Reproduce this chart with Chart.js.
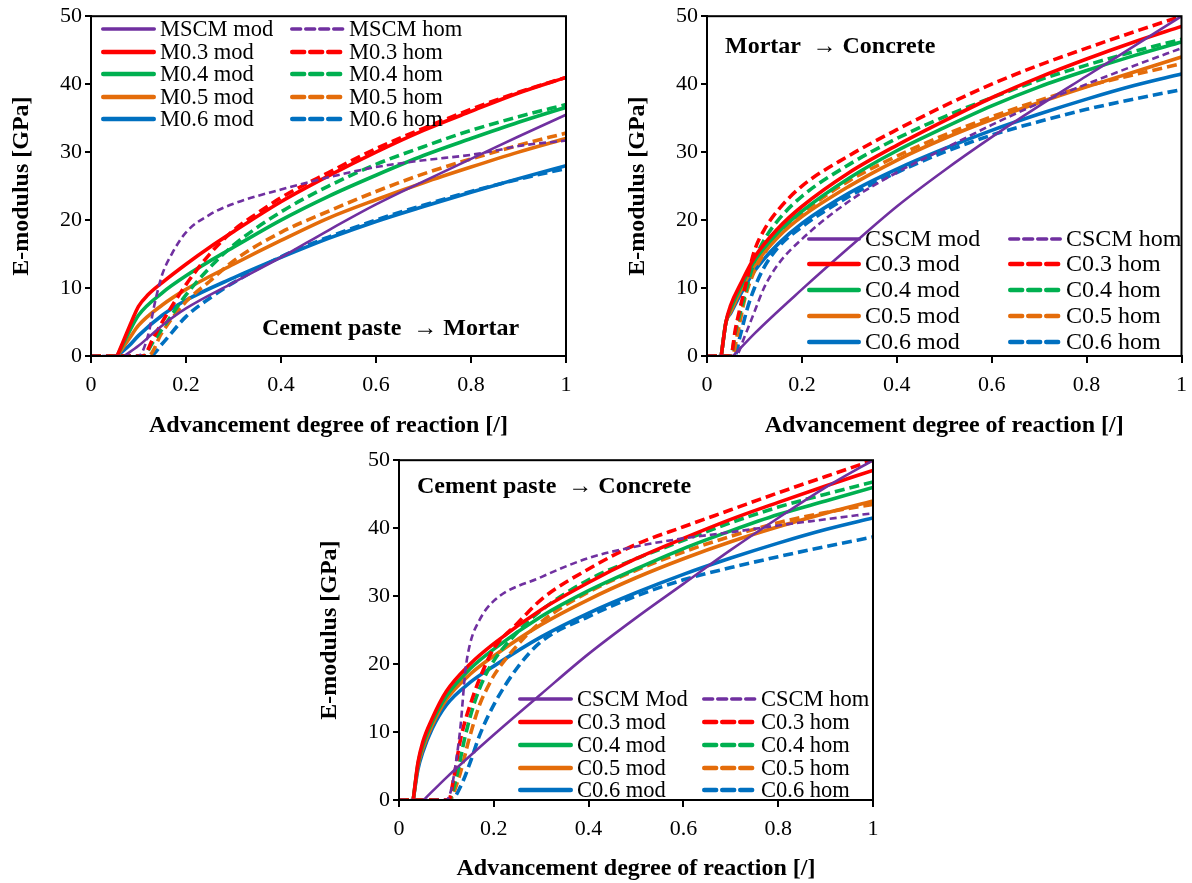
<!DOCTYPE html>
<html><head><meta charset="utf-8">
<script src="https://cdn.jsdelivr.net/npm/chart.js@4.4.1/dist/chart.umd.min.js"></script>
<style>
html,body{margin:0;padding:0;background:#fff;width:1192px;height:883px;overflow:hidden;font-family:"Liberation Serif","Times New Roman",serif;position:relative;}
.box{position:absolute;}
.note{position:absolute;font-weight:bold;font-size:24px;white-space:nowrap;color:#000;line-height:24px;}
.leg{position:absolute;white-space:nowrap;color:#000;display:flex;align-items:center;}
.leg svg{display:block;margin-right:4px;}
</style></head><body>
<div class="box" style="left:3px;top:0;width:597px;height:440px"><canvas id="c1"></canvas></div>
<div class="box" style="left:619px;top:0;width:577px;height:440px"><canvas id="c2"></canvas></div>
<div class="box" style="left:311px;top:444px;width:589px;height:439px"><canvas id="c3"></canvas></div>
<div class="note" style="left:262px;top:315px">Cement paste &nbsp;→ Mortar</div>
<div class="note" style="left:725px;top:33px">Mortar &nbsp;→ Concrete</div>
<div class="note" style="left:417px;top:473px">Cement paste &nbsp;→ Concrete</div>
<script>
// ---------- shared ----------
const xTickValues = [0, 0.2, 0.4, 0.6, 0.8, 1];
const yTickValues = [0, 10, 20, 30, 40, 50];
const xTitle = 'Advancement degree of reaction [/]';
const yTitle = 'E-modulus [GPa]';
const seriesColors = ['#7030A0', '#FF0000', '#00B050', '#E46C0A', '#0070C0'];

// ---------- Chart 1: Cement paste -> Mortar ----------
const labels1 = ['MSCM mod', 'MSCM hom', 'M0.3 mod', 'M0.3 hom', 'M0.4 mod', 'M0.4 hom', 'M0.5 mod', 'M0.5 hom', 'M0.6 mod', 'M0.6 hom'];
const m_SCM_mod = [[0.07,0],[0.1,1.5],[0.15,4.5],[0.2,7],[0.3,10.8],[0.4,14.5],[0.5,18.5],[0.6,22.3],[0.7,25.7],[0.8,29],[0.9,32.3],[1,35.5]];
const m_SCM_hom = [[0,0],[0.1,0],[0.12,3],[0.135,8],[0.15,12],[0.17,15],[0.2,18.2],[0.25,20.8],[0.3,22.4],[0.4,24.5],[0.5,26.3],[0.6,27.8],[0.7,28.8],[0.8,29.6],[0.85,30.2],[0.9,30.9],[1,31.7]];
const m_03_mod = [[0.055,0],[0.07,2.5],[0.085,5],[0.1,7.3],[0.12,9],[0.15,10.8],[0.2,13.5],[0.25,16],[0.3,18.3],[0.4,22.7],[0.5,26.5],[0.6,30],[0.7,33.2],[0.8,36],[0.9,38.7],[1,41]];
const m_03_hom = [[0,0],[0.11,0],[0.13,2.5],[0.15,5],[0.2,10.5],[0.25,15],[0.3,18.5],[0.35,21],[0.4,23.3],[0.5,27],[0.6,30.5],[0.7,33.5],[0.8,36.3],[0.9,38.8],[1,41]];
const m_04_mod = [[0.055,0],[0.08,3.5],[0.1,6],[0.15,9.3],[0.2,11.8],[0.3,16],[0.4,20],[0.5,23.5],[0.6,26.6],[0.7,29.5],[0.8,32],[0.9,34.4],[1,36.6]];
const m_04_hom = [[0,0],[0.11,0],[0.13,2],[0.15,4],[0.2,9],[0.25,13],[0.3,16.3],[0.4,21.2],[0.5,25],[0.6,28.2],[0.7,30.8],[0.8,33.2],[0.9,35.2],[1,37]];
const m_05_mod = [[0.055,0],[0.08,2.5],[0.1,4.5],[0.15,7.5],[0.2,9.8],[0.3,13.5],[0.4,17],[0.5,20.3],[0.6,23],[0.7,25.5],[0.8,27.8],[0.9,30],[1,32]];
const m_05_hom = [[0,0],[0.12,0],[0.15,3.5],[0.2,8],[0.25,11],[0.3,14],[0.4,18.2],[0.5,21.3],[0.6,24.2],[0.7,26.8],[0.8,29],[0.9,31],[1,32.8]];
const m_06_mod = [[0.055,0],[0.08,1.5],[0.1,3],[0.15,6],[0.2,8.2],[0.3,11.5],[0.4,14.5],[0.5,17.3],[0.6,19.8],[0.7,22],[0.8,24.1],[0.9,26.1],[1,28]];
const m_06_hom = [[0,0],[0.125,0],[0.15,1.8],[0.2,5.8],[0.25,8.5],[0.3,10.8],[0.4,14.6],[0.5,17.5],[0.6,20],[0.7,22.2],[0.8,24.2],[0.9,26],[1,27.6]];
const series1 = [m_SCM_mod, m_SCM_hom, m_03_mod, m_03_hom, m_04_mod, m_04_hom, m_05_mod, m_05_hom, m_06_mod, m_06_hom];

// ---------- Chart 2: Mortar -> Concrete ----------
const labels2 = ['CSCM mod', 'CSCM hom', 'C0.3 mod', 'C0.3 hom', 'C0.4 mod', 'C0.4 hom', 'C0.5 mod', 'C0.5 hom', 'C0.6 mod', 'C0.6 hom'];
const mc_SCM_mod = [[0.055,0],[0.1,3.3],[0.2,9.8],[0.3,16],[0.4,22],[0.5,27.3],[0.6,32.2],[0.7,36.8],[0.8,41.2],[0.9,45.6],[1,50]];
const mc_SCM_hom = [[0,0],[0.06,0],[0.08,3],[0.1,6.5],[0.12,10],[0.15,13.5],[0.2,17.2],[0.3,22.8],[0.4,27],[0.5,30.5],[0.6,34],[0.7,37.2],[0.8,40],[0.9,42.7],[1,45.3]];
const mc_03_mod = [[0.03,0],[0.04,5],[0.05,7.5],[0.07,10.5],[0.1,14.5],[0.15,18.8],[0.2,22],[0.3,27],[0.4,31],[0.5,34.6],[0.6,38],[0.7,41],[0.8,43.7],[0.9,46.2],[1,48.5]];
const mc_03_hom = [[0,0],[0.05,0],[0.06,4],[0.08,10],[0.1,15.5],[0.12,18.5],[0.15,21.5],[0.2,25],[0.3,29.5],[0.4,33.3],[0.5,36.8],[0.6,40],[0.7,42.8],[0.8,45.3],[0.9,47.7],[1,50]];
const mc_04_mod = [[0.03,0],[0.04,5],[0.05,7],[0.07,10],[0.1,14],[0.15,18.2],[0.2,21.3],[0.3,26.2],[0.4,30.2],[0.5,33.6],[0.6,36.8],[0.7,39.6],[0.8,42],[0.9,44.2],[1,46.2]];
const mc_04_hom = [[0,0],[0.05,0],[0.06,3.5],[0.08,9],[0.1,14],[0.12,17],[0.15,20],[0.2,23.5],[0.3,28.2],[0.4,32],[0.5,35.2],[0.6,38],[0.7,40.6],[0.8,42.8],[0.9,44.8],[1,46.6]];
const mc_05_mod = [[0.03,0],[0.04,5],[0.05,6.5],[0.07,9.5],[0.1,13.3],[0.15,17.5],[0.2,20.5],[0.3,25],[0.4,28.8],[0.5,32],[0.6,34.8],[0.7,37.3],[0.8,39.6],[0.9,41.8],[1,44]];
const mc_05_hom = [[0,0],[0.053,0],[0.065,3.5],[0.08,8.5],[0.1,12.5],[0.12,15],[0.15,17.8],[0.2,21],[0.3,25.8],[0.4,29.4],[0.5,32.5],[0.6,35.2],[0.7,37.6],[0.8,39.7],[0.9,41.4],[1,43]];
const mc_06_mod = [[0.03,0],[0.04,5],[0.05,6.3],[0.07,9],[0.1,12.5],[0.15,16.5],[0.2,19.5],[0.3,24],[0.4,27.5],[0.5,30.5],[0.6,33.2],[0.7,35.6],[0.8,37.8],[0.9,39.8],[1,41.5]];
const mc_06_hom = [[0,0],[0.058,0],[0.07,3],[0.085,7],[0.1,10],[0.12,13],[0.15,16],[0.2,19],[0.3,23.5],[0.4,27],[0.5,30],[0.6,32.5],[0.7,34.5],[0.8,36.3],[0.9,37.8],[1,39.2]];
const series2 = [mc_SCM_mod, mc_SCM_hom, mc_03_mod, mc_03_hom, mc_04_mod, mc_04_hom, mc_05_mod, mc_05_hom, mc_06_mod, mc_06_hom];

// ---------- Chart 3: Cement paste -> Concrete ----------
const labels3 = ['CSCM Mod', 'CSCM hom', 'C0.3 mod', 'C0.3 hom', 'C0.4 mod', 'C0.4 hom', 'C0.5 mod', 'C0.5 hom', 'C0.6 mod', 'C0.6 hom'];
const pc_SCM_mod = [[0.052,0],[0.1,3.3],[0.2,9.6],[0.3,15.6],[0.4,21.5],[0.5,26.8],[0.6,31.8],[0.7,36.8],[0.8,41.5],[0.9,46],[1,50]];
const pc_SCM_hom = [[0,0],[0.1,0],[0.11,1.5],[0.12,5.5],[0.13,11],[0.14,19],[0.15,23],[0.17,26.5],[0.2,29.3],[0.3,32.8],[0.4,35.6],[0.5,37.3],[0.6,38.5],[0.7,39.4],[0.8,40.4],[0.9,41.3],[1,42.2]];
const pc_03_mod = [[0.03,0],[0.04,5.5],[0.05,8.5],[0.07,12],[0.1,16],[0.15,20],[0.2,23],[0.3,28],[0.4,32],[0.5,35.5],[0.6,38.5],[0.7,41.3],[0.8,43.8],[0.9,46.2],[1,48.5]];
const pc_03_hom = [[0,0],[0.105,0],[0.115,3],[0.13,9],[0.155,15],[0.18,19.5],[0.2,22.3],[0.25,26],[0.3,29.5],[0.4,34],[0.5,37.6],[0.6,40.2],[0.7,42.7],[0.8,45.2],[0.9,47.6],[1,50]];
const pc_04_mod = [[0.03,0],[0.04,5.3],[0.05,8],[0.07,11.5],[0.1,15.3],[0.15,19.3],[0.2,22.2],[0.3,27],[0.4,30.8],[0.5,34],[0.6,37],[0.7,39.6],[0.8,42],[0.9,44],[1,46]];
const pc_04_hom = [[0,0],[0.105,0],[0.12,3],[0.14,9.5],[0.16,14.5],[0.18,18],[0.2,20.5],[0.25,24.7],[0.3,27.9],[0.4,32.4],[0.5,35.5],[0.6,38.2],[0.7,40.8],[0.8,43.1],[0.9,45],[1,46.8]];
const pc_05_mod = [[0.03,0],[0.04,5],[0.05,7.5],[0.07,11],[0.1,14.8],[0.15,18.5],[0.2,21.2],[0.3,25.8],[0.4,29.5],[0.5,32.7],[0.6,35.5],[0.7,38],[0.8,40.2],[0.9,42.2],[1,44]];
const pc_05_hom = [[0,0],[0.105,0],[0.125,3],[0.15,9.5],[0.17,14],[0.19,17],[0.2,18.3],[0.25,22.8],[0.3,26.2],[0.4,30.6],[0.5,33.8],[0.6,36.5],[0.7,38.8],[0.8,40.8],[0.9,42.3],[1,43.5]];
const pc_06_mod = [[0.03,0],[0.04,4.5],[0.05,7],[0.07,10.5],[0.1,14],[0.15,17.3],[0.2,19.7],[0.3,24],[0.4,27.5],[0.5,30.5],[0.6,33.2],[0.7,35.6],[0.8,37.8],[0.9,39.8],[1,41.5]];
const pc_06_hom = [[0,0],[0.11,0],[0.13,2],[0.15,5.5],[0.17,9.5],[0.2,14],[0.25,19.5],[0.3,23.3],[0.4,27],[0.5,30],[0.6,32.4],[0.7,34.2],[0.8,35.8],[0.9,37.3],[1,38.7]];
const series3 = [pc_SCM_mod, pc_SCM_hom, pc_03_mod, pc_03_hom, pc_04_mod, pc_04_hom, pc_05_mod, pc_05_hom, pc_06_mod, pc_06_hom];

// ---------- styling ----------
const FONT = '"Liberation Serif", "Times New Roman", serif';
function styleFor(i) {
  const color = seriesColors[Math.floor(i / 2)];
  const hom = i % 2 === 1;
  const purple = i < 2;
  return {
    color,
    width: purple ? 2.6 : 3.6,
    dash: hom ? (purple ? [7, 4] : [10, 5]) : []
  };
}

const framePlugin = {
  id: 'frame',
  afterDatasetsDraw(chart) {
    const a = chart.chartArea, ctx = chart.ctx;
    ctx.save();
    ctx.strokeStyle = '#000';
    ctx.lineWidth = 2;
    ctx.setLineDash([]);
    ctx.strokeRect(a.left, a.top, a.right - a.left, a.bottom - a.top);
    ctx.restore();
  }
};

function makeChart(id, labels, series, opts) {
  const datasets = series.map((pts, i) => {
    const s = styleFor(i);
    return {
      label: labels[i],
      data: pts.map(p => ({ x: p[0], y: p[1] })),
      borderColor: s.color,
      backgroundColor: s.color,
      borderWidth: s.width,
      borderDash: s.dash,
      pointRadius: 0,
      fill: false,
      cubicInterpolationMode: 'monotone'
    };
  });
  new Chart(document.getElementById(id), {
    type: 'line',
    data: { datasets },
    plugins: [framePlugin],
    options: {
      responsive: true,
      maintainAspectRatio: false,
      animation: false,
      layout: { padding: { left: 0, top: opts.top, right: opts.right, bottom: 0 } },
      plugins: { legend: { display: false }, tooltip: { enabled: false } },
      scales: {
        x: {
          type: 'linear', min: 0, max: 1,
          afterFit: s => { s.height = opts.xh; },
          afterBuildTicks: s => { s.ticks = xTickValues.map(v => ({ value: v })); },
          ticks: { color: '#000', font: { family: FONT, size: 22 }, padding: 9, maxRotation: 0,
                   callback: v => String(parseFloat(v.toFixed(1))) },
          grid: { display: true, drawOnChartArea: false, drawTicks: true, tickLength: 7, color: '#000', lineWidth: 2 },
          border: { display: true, color: '#000', width: 2 },
          title: { display: true, text: xTitle, color: '#000', font: { family: FONT, size: 24, weight: 'bold' }, padding: { top: opts.xtp, bottom: 0 } }
        },
        y: {
          type: 'linear', min: 0, max: 50,
          afterFit: s => { s.width = 88; },
          afterBuildTicks: s => { s.ticks = yTickValues.map(v => ({ value: v })); },
          ticks: { color: '#000', font: { family: FONT, size: 22 }, padding: 3 },
          grid: { display: true, drawOnChartArea: false, drawTicks: true, tickLength: 6, color: '#000', lineWidth: 2 },
          border: { display: true, color: '#000', width: 2 },
          title: { display: true, text: yTitle, color: '#000', font: { family: FONT, size: 24, weight: 'bold' }, padding: { top: 4, bottom: 0 } }
        }
      }
    }
  });
}

makeChart('c1', labels1, series1, { top: 16, right: 34, xh: 84, xtp: 5 });
makeChart('c2', labels2, series2, { top: 16, right: 7, xh: 84, xtp: 5 });
makeChart('c3', labels3, series3, { top: 16, right: 27, xh: 83, xtp: 4 });

// ---------- HTML legends (two columns, inside plots) ----------
function makeLegend(labels, cfg) {
  labels.forEach((lab, i) => {
    const s = styleFor(i);
    const col = i % 2, row = Math.floor(i / 2);
    const d = document.createElement('div');
    d.className = 'leg';
    d.style.left = cfg.cols[col] + 'px';
    d.style.top = (cfg.rows[row] - cfg.fs * 0.6) + 'px';
    d.style.height = (cfg.fs * 1.2) + 'px';
    d.style.fontSize = cfg.fs + 'px';
    const w = cfg.lineW;
    const sw = s.width + 0.8;
    const dash = s.dash.length ? `stroke-dasharray="${s.dash[0] + 2},${s.dash[1] + 1}"` : '';
    d.innerHTML = `<svg width="${w}" height="10"><line x1="${sw/2}" y1="5" x2="${w - sw/2}" y2="5" stroke="${s.color}" stroke-width="${sw}" stroke-linecap="round" ${dash}/></svg><span>${lab}</span>`;
    document.body.appendChild(d);
  });
}
makeLegend(labels1, { cols: [101, 290], rows: [29, 52, 74, 97, 119], fs: 22.5, lineW: 55 });
makeLegend(labels2, { cols: [807, 1008], rows: [239, 264, 290, 316, 342], fs: 24, lineW: 54 });
makeLegend(labels3, { cols: [518, 702], rows: [699, 722, 745, 768, 790], fs: 22.5, lineW: 55 });
</script>
</body></html>
